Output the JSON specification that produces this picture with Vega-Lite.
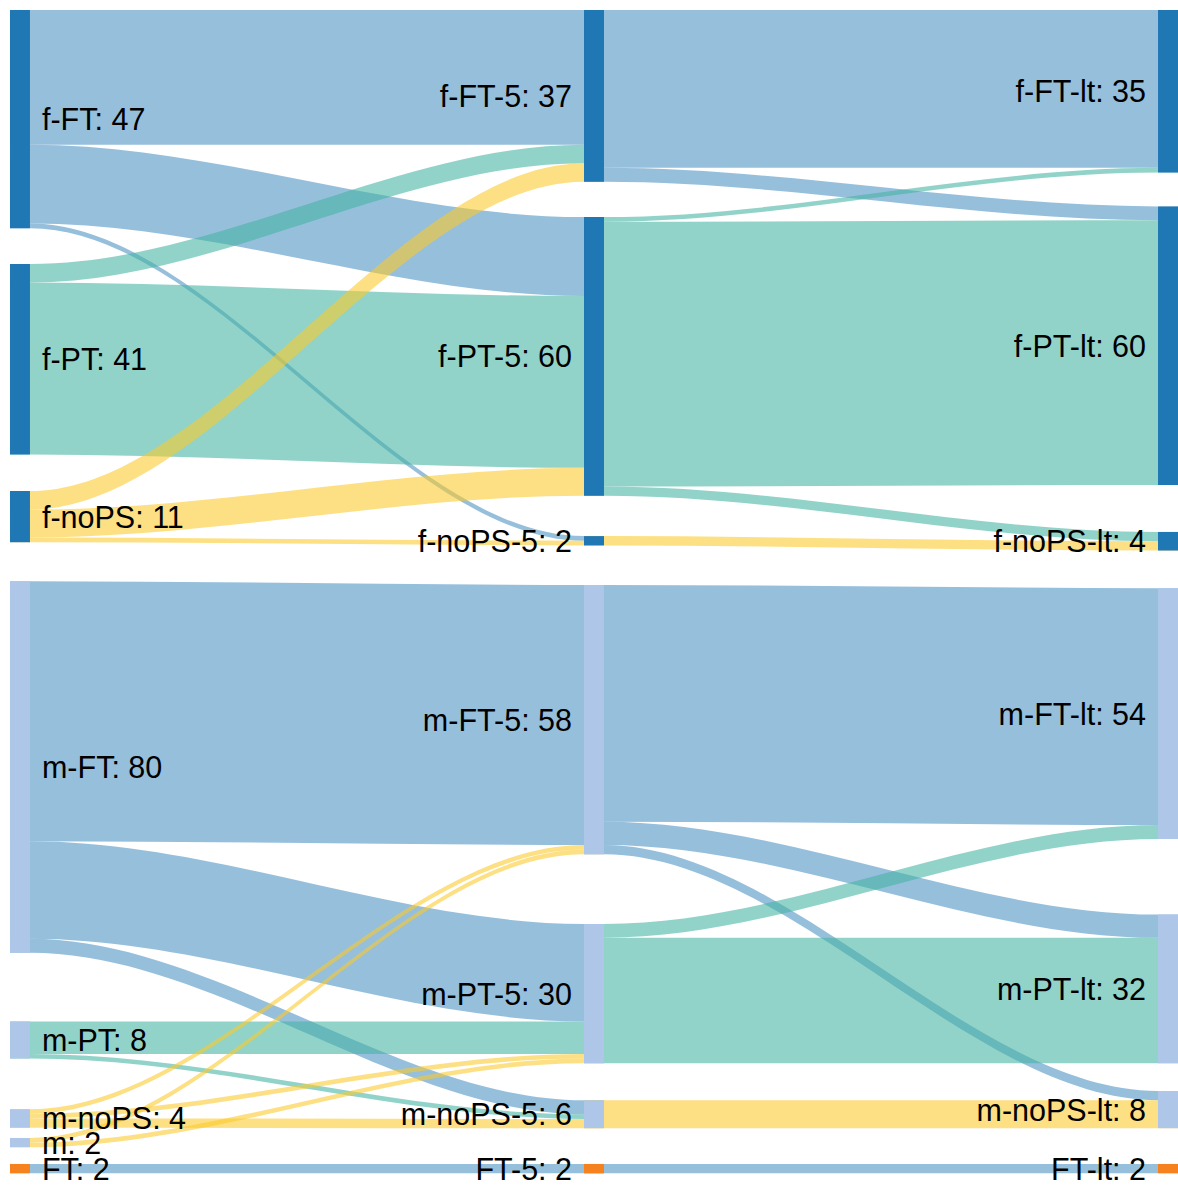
{
  "$schema": "https://vega.github.io/schema/vega-lite/v6.json",
  "width": 1178,
  "height": 1187,
  "autosize": {"type": "fit", "contains": "padding"},
  "padding": 0,
  "background": "white",
  "config": {"view": {"stroke": null}},
  "datasets": {
    "nodes": [
      {"name": "f-FT", "stage": 0, "value": 47, "y0": 0, "grp": "f"},
      {"name": "f-PT", "stage": 0, "value": 41, "y0": 54.7, "grp": "f"},
      {"name": "f-noPS", "stage": 0, "value": 11, "y0": 103.6, "grp": "f"},
      {"name": "m-FT", "stage": 0, "value": 80, "y0": 123.0, "grp": "m"},
      {"name": "m-PT", "stage": 0, "value": 8, "y0": 217.8, "grp": "m"},
      {"name": "m-noPS", "stage": 0, "value": 4, "y0": 236.7, "grp": "m"},
      {"name": "m", "stage": 0, "value": 2, "y0": 242.9, "grp": "m"},
      {"name": "FT", "stage": 0, "value": 2, "y0": 248.5, "grp": "o"},
      {"name": "f-FT-5", "stage": 1, "value": 37, "y0": 0, "grp": "f"},
      {"name": "f-PT-5", "stage": 1, "value": 60, "y0": 44.6, "grp": "f"},
      {"name": "f-noPS-5", "stage": 1, "value": 2, "y0": 113.3, "grp": "f"},
      {"name": "m-FT-5", "stage": 1, "value": 58, "y0": 123.8, "grp": "m"},
      {"name": "m-PT-5", "stage": 1, "value": 30, "y0": 196.8, "grp": "m"},
      {"name": "m-noPS-5", "stage": 1, "value": 6, "y0": 234.8, "grp": "m"},
      {"name": "FT-5", "stage": 1, "value": 2, "y0": 248.5, "grp": "o"},
      {"name": "f-FT-lt", "stage": 2, "value": 35, "y0": 0, "grp": "f"},
      {"name": "f-PT-lt", "stage": 2, "value": 60, "y0": 42.3, "grp": "f"},
      {"name": "f-noPS-lt", "stage": 2, "value": 4, "y0": 112.4, "grp": "f"},
      {"name": "m-FT-lt", "stage": 2, "value": 54, "y0": 124.5, "grp": "m"},
      {"name": "m-PT-lt", "stage": 2, "value": 32, "y0": 194.8, "grp": "m"},
      {"name": "m-noPS-lt", "stage": 2, "value": 8, "y0": 232.8, "grp": "m"},
      {"name": "FT-lt", "stage": 2, "value": 2, "y0": 248.5, "grp": "o"}
    ],
    "links": [
      {"source": "f-FT", "target": "f-FT-5", "value": 29, "stage": 0, "sy": 0, "ty": 0, "cat": "FT"},
      {"source": "f-FT", "target": "f-PT-5", "value": 17, "stage": 0, "sy": 29, "ty": 44.6, "cat": "FT"},
      {"source": "f-FT", "target": "f-noPS-5", "value": 1, "stage": 0, "sy": 46, "ty": 113.3, "cat": "FT"},
      {"source": "f-PT", "target": "f-FT-5", "value": 4, "stage": 0, "sy": 54.7, "ty": 29, "cat": "PT"},
      {"source": "f-PT", "target": "f-PT-5", "value": 37, "stage": 0, "sy": 58.7, "ty": 61.6, "cat": "PT"},
      {"source": "f-noPS", "target": "f-FT-5", "value": 4, "stage": 0, "sy": 103.6, "ty": 33, "cat": "noPS"},
      {"source": "f-noPS", "target": "f-PT-5", "value": 6, "stage": 0, "sy": 107.6, "ty": 98.6, "cat": "noPS"},
      {"source": "f-noPS", "target": "f-noPS-5", "value": 1, "stage": 0, "sy": 113.6, "ty": 114.3, "cat": "noPS"},
      {"source": "m-FT", "target": "m-FT-5", "value": 56, "stage": 0, "sy": 123.0, "ty": 123.8, "cat": "FT"},
      {"source": "m-FT", "target": "m-PT-5", "value": 21, "stage": 0, "sy": 179.0, "ty": 196.8, "cat": "FT"},
      {"source": "m-FT", "target": "m-noPS-5", "value": 3, "stage": 0, "sy": 200.0, "ty": 234.8, "cat": "FT"},
      {"source": "m-PT", "target": "m-PT-5", "value": 7, "stage": 0, "sy": 217.8, "ty": 217.8, "cat": "PT"},
      {"source": "m-PT", "target": "m-noPS-5", "value": 1, "stage": 0, "sy": 224.8, "ty": 237.8, "cat": "PT"},
      {"source": "m-noPS", "target": "m-FT-5", "value": 1, "stage": 0, "sy": 236.7, "ty": 179.8, "cat": "noPS"},
      {"source": "m-noPS", "target": "m-PT-5", "value": 1, "stage": 0, "sy": 237.7, "ty": 224.8, "cat": "noPS"},
      {"source": "m-noPS", "target": "m-noPS-5", "value": 2, "stage": 0, "sy": 238.7, "ty": 238.8, "cat": "noPS"},
      {"source": "m", "target": "m-FT-5", "value": 1, "stage": 0, "sy": 242.9, "ty": 180.8, "cat": "noPS"},
      {"source": "m", "target": "m-PT-5", "value": 1, "stage": 0, "sy": 243.9, "ty": 225.8, "cat": "noPS"},
      {"source": "FT", "target": "FT-5", "value": 2, "stage": 0, "sy": 248.5, "ty": 248.5, "cat": "FT"},
      {"source": "f-FT-5", "target": "f-FT-lt", "value": 34, "stage": 1, "sy": 0, "ty": 0, "cat": "FT"},
      {"source": "f-FT-5", "target": "f-PT-lt", "value": 3, "stage": 1, "sy": 34, "ty": 42.3, "cat": "FT"},
      {"source": "f-PT-5", "target": "f-FT-lt", "value": 1, "stage": 1, "sy": 44.6, "ty": 34, "cat": "PT"},
      {"source": "f-PT-5", "target": "f-PT-lt", "value": 57, "stage": 1, "sy": 45.6, "ty": 45.3, "cat": "PT"},
      {"source": "f-PT-5", "target": "f-noPS-lt", "value": 2, "stage": 1, "sy": 102.6, "ty": 112.4, "cat": "PT"},
      {"source": "f-noPS-5", "target": "f-noPS-lt", "value": 2, "stage": 1, "sy": 113.3, "ty": 114.4, "cat": "noPS"},
      {"source": "m-FT-5", "target": "m-FT-lt", "value": 51, "stage": 1, "sy": 123.8, "ty": 124.5, "cat": "FT"},
      {"source": "m-FT-5", "target": "m-PT-lt", "value": 5, "stage": 1, "sy": 174.8, "ty": 194.8, "cat": "FT"},
      {"source": "m-FT-5", "target": "m-noPS-lt", "value": 2, "stage": 1, "sy": 179.8, "ty": 232.8, "cat": "FT"},
      {"source": "m-PT-5", "target": "m-FT-lt", "value": 3, "stage": 1, "sy": 196.8, "ty": 175.5, "cat": "PT"},
      {"source": "m-PT-5", "target": "m-PT-lt", "value": 27, "stage": 1, "sy": 199.8, "ty": 199.8, "cat": "PT"},
      {"source": "m-noPS-5", "target": "m-noPS-lt", "value": 6, "stage": 1, "sy": 234.8, "ty": 234.8, "cat": "noPS"},
      {"source": "FT-5", "target": "FT-lt", "value": 2, "stage": 1, "sy": 248.5, "ty": 248.5, "cat": "FT"}
    ]
  },
  "resolve": {"scale": {"color": "independent", "fill": "independent"}},
  "layer": [
    {
      "data": {"name": "links"},
      "transform": [
        {"calculate": "datum.stage", "as": "p0"},
        {"calculate": "datum.stage + 0.0348", "as": "p1"},
        {"calculate": "datum.stage + 1", "as": "p2"},
        {"calculate": "datum.stage + 1.0348", "as": "p3"},
        {"calculate": "datum.source + ' > ' + datum.target", "as": "link"},
        {"fold": ["p0", "p1", "p2", "p3"], "as": ["pt", "px"]},
        {"calculate": "(datum.pt == 'p0' || datum.pt == 'p1') ? datum.sy : datum.ty", "as": "top"},
        {"calculate": "datum.top + datum.value", "as": "bottom"}
      ],
      "mark": {"type": "area", "interpolate": "monotone", "fillOpacity": 0.58},
      "encoding": {
        "x": {"field": "px", "type": "quantitative", "scale": {"domain": [-0.0174, 2.0348], "nice": false, "zero": false}, "axis": null},
        "y": {"field": "top", "type": "quantitative", "stack": null, "scale": {"domain": [-2.15, 252.6], "reverse": true, "nice": false, "zero": false}, "axis": null},
        "y2": {"field": "bottom"},
        "detail": {"field": "link"},
        "color": {"field": "cat", "type": "nominal", "scale": {"domain": ["FT", "PT", "noPS"], "range": ["#4a90c2", "#44b4a2", "#fbca2a"]}, "legend": null}
      }
    },
    {
      "data": {"name": "nodes"},
      "transform": [
        {"calculate": "datum.stage + 0.0348", "as": "stageR"},
        {"calculate": "datum.y0 + datum.value", "as": "y1"}
      ],
      "mark": {"type": "rect"},
      "encoding": {
        "x": {"field": "stage", "type": "quantitative"},
        "x2": {"field": "stageR"},
        "y": {"field": "y0", "type": "quantitative"},
        "y2": {"field": "y1"},
        "fill": {"field": "grp", "type": "nominal", "scale": {"domain": ["f", "m", "o"], "range": ["#1f77b4", "#aec7e8", "#f5821f"]}, "legend": null}
      }
    },
    {
      "data": {"name": "nodes"},
      "transform": [
        {"filter": "datum.stage == 0"},
        {"calculate": "datum.stage + 0.0348", "as": "stageR"},
        {"calculate": "datum.y0 + datum.value / 2", "as": "ym"},
        {"calculate": "datum.name + ': ' + datum.value", "as": "label"}
      ],
      "mark": {"type": "text", "align": "left", "baseline": "middle", "dx": 12, "dy": 2, "font": "Liberation Sans", "fontSize": 30.5, "color": "black"},
      "encoding": {
        "x": {"field": "stageR", "type": "quantitative"},
        "y": {"field": "ym", "type": "quantitative"},
        "text": {"field": "label"}
      }
    },
    {
      "data": {"name": "nodes"},
      "transform": [
        {"filter": "datum.stage > 0"},
        {"calculate": "datum.y0 + datum.value / 2", "as": "ym"},
        {"calculate": "datum.name + ': ' + datum.value", "as": "label"}
      ],
      "mark": {"type": "text", "align": "right", "baseline": "middle", "dx": -12, "dy": 2, "font": "Liberation Sans", "fontSize": 30.5, "color": "black"},
      "encoding": {
        "x": {"field": "stage", "type": "quantitative"},
        "y": {"field": "ym", "type": "quantitative"},
        "text": {"field": "label"}
      }
    }
  ]
}
